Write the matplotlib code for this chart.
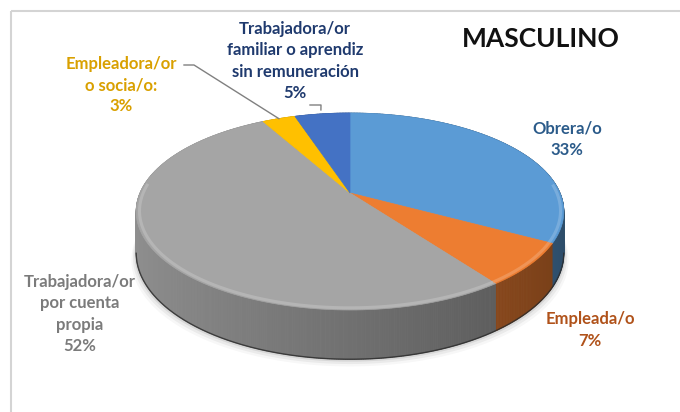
#!/usr/bin/env python3

import numpy as np
import matplotlib
matplotlib.use("Agg")
import matplotlib.pyplot as plt
from matplotlib.collections import PolyCollection
from matplotlib.colors import to_rgb
from matplotlib.patches import Polygon, Rectangle

# chart data
title = "MASCULINO"
categories = [
    "Obrera/o",
    "Empleada/o",
    "Trabajadora/or\npor cuenta\npropia",
    "Empleadora/or\no socia/o:",
    "Trabajadora/or\nfamiliar o aprendiz\nsin remuneración",
]
values = [33, 7, 52, 3, 5]
slice_colors = ["#5B9BD5", "#ED7D31", "#A5A5A5", "#FFC000", "#4472C4"]
label_colors = ["#2B5B8A", "#B0521A", "#7B7B7B", "#D9A000", "#1F3A6E"]

# pie layout (pixel space, y going down)
CX, CY = 350, 193
RX, RY = 210, 95
PERSP = 0.188
DEPTH = 40

# label centres (pixel space)
label_pos = [(567, 139), (590, 330), (80, 314), (121, 85), (295, 61)]


def project(phi, r=1.0, z=0.0):
    """Map angle (clockwise from 12 o'clock) on the disc to screen coords."""
    s = 1.0 / (1.0 + PERSP * r * np.cos(phi))
    x = CX + RX * r * np.sin(phi) * s
    y = CY - RY * r * np.cos(phi) * s + z * s
    return x, y


def shade(color, f):
    return tuple(np.clip(np.array(to_rgb(color)) * f, 0, 1))


def lighten(color, f):
    c = np.array(to_rgb(color))
    return tuple(c + (1 - c) * f)


def main():
    plt.rcParams["font.family"] = ["Lato", "DejaVu Sans"]

    fig = plt.figure(figsize=(6.8, 4.12), dpi=100)
    ax = fig.add_axes([0, 0, 1, 1])
    ax.set_xlim(0, 680)
    ax.set_ylim(412, 0)
    ax.axis("off")

    # outer frame
    ax.add_patch(Rectangle((11, 11), 700, 430, fill=False,
                           edgecolor="#d4d4d4", lw=1.5))

    fractions = np.array(values, dtype=float) / sum(values)
    bounds = np.concatenate([[0], np.cumsum(fractions)]) * 2 * np.pi

    # soft shadow under the pie
    ring = np.linspace(0, 2 * np.pi, 361)
    bx, by = project(ring, z=DEPTH)
    for grow, alpha in [(9, 0.03), (6, 0.05), (3, 0.08)]:
        sx = CX + (bx - CX) * (1 + grow / 400)
        sy = by + grow * 0.8
        ax.add_patch(Polygon(np.column_stack([sx, sy]), closed=True,
                             facecolor="black", edgecolor="none", alpha=alpha))

    # side wall, back strips first
    edges = np.linspace(0, 2 * np.pi, 721)
    strips = []
    for p0, p1 in zip(edges[:-1], edges[1:]):
        mid = 0.5 * (p0 + p1)
        idx = min(np.searchsorted(bounds, mid) - 1, len(values) - 1)
        x0, y0 = project(p0)
        x1, y1 = project(p1)
        x2, y2 = project(p1, z=DEPTH)
        x3, y3 = project(p0, z=DEPTH)
        f = 0.68 - 0.19 * np.sin(mid)
        strips.append((np.cos(mid), [(x0, y0), (x1, y1), (x2, y2), (x3, y3)],
                       shade(slice_colors[idx], f)))
    strips.sort(key=lambda s: -s[0])
    pc = PolyCollection([s[1] for s in strips],
                        facecolors=[s[2] for s in strips],
                        edgecolors=[s[2] for s in strips], linewidths=0.6)
    ax.add_collection(pc)

    # dark bottom edge (visible part only)
    front = ring[np.cos(ring) < -PERSP]
    fx, fy = project(front, z=DEPTH)
    order = np.argsort(fx)
    ax.plot(fx[order], fy[order], color="#2a2a2a", lw=1.0, alpha=0.8)

    # top faces
    for i in range(len(values)):
        phis = np.linspace(bounds[i], bounds[i + 1], 120)
        rx, ry = project(phis)
        pts = np.column_stack([np.r_[CX, rx], np.r_[CY, ry]])
        ax.add_patch(Polygon(pts, closed=True, facecolor=slice_colors[i],
                             edgecolor=slice_colors[i], lw=0.5))

    # bevel highlight along the front rim
    for i in range(len(values)):
        phis = np.linspace(bounds[i], bounds[i + 1], 200)
        phis = phis[np.cos(phis) < 0.1]
        if len(phis) < 2:
            continue
        hx, hy = project(phis, r=0.985)
        ax.plot(hx, hy, color=lighten(slice_colors[i], 0.3), lw=2.2,
                alpha=0.6, solid_capstyle="butt")

    # labels
    for i, (cat, val) in enumerate(zip(categories, values)):
        x, y = label_pos[i]
        ax.text(x, y, f"{cat}\n{val}%", ha="center", va="center",
                fontsize=12, fontweight="bold", color=label_colors[i],
                linespacing=1.42)

    # leader lines for the two small slices
    mid3 = 0.5 * (bounds[3] + bounds[4])
    ex, ey = project(mid3, r=1.0)
    ax.plot([184, 194, ex], [65, 65, ey], color="#808080", lw=1)
    mid4 = 0.5 * (bounds[4] + bounds[5])
    ex, ey = project(mid4, r=1.06)
    ax.plot([310, 321, ex], [105, 105, ey], color="#808080", lw=1)

    ax.text(541, 39, title, ha="center", va="center", fontsize=19,
            fontweight="bold", color="#111111")

    fig.savefig("out.png", dpi=100)


if __name__ == "__main__":
    main()
